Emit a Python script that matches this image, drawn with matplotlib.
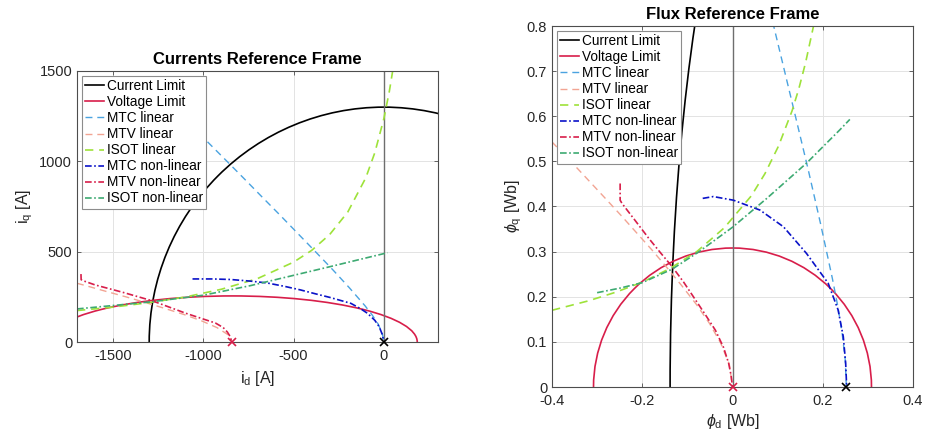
import matplotlib
matplotlib.use("Agg")
import matplotlib.pyplot as plt
from matplotlib.patches import Arc

plt.rcParams['font.family'] = ['Liberation Sans', 'DejaVu Sans']
plt.rcParams['mathtext.fontset'] = 'custom'
plt.rcParams['mathtext.rm'] = 'Liberation Sans'
plt.rcParams['mathtext.it'] = 'Liberation Sans:italic'
plt.rcParams['axes.unicode_minus'] = False

# ---------------- data: current reference frame ----------------
i_max = 1300                      # current limit radius [A]
volt_center_id = -840             # voltage ellipse centre [A]
volt_semi_d = 1025                # voltage ellipse semi-axis d [A]
volt_semi_q = 255                 # voltage ellipse semi-axis q [A]

mtc_lin_id = [-977, -869, -770, -672, -573, -476, -379, -283, -191, -104, -65, -32, -9, 0]
mtc_lin_iq = [1108, 1000, 900, 800, 700, 600, 500, 400, 300, 200, 150, 100, 50, 0]

mtv_lin_id = [-1700, -1655, -1542, -1429, -1319, -1211, -1107, -1010, -925, -864, -840]
mtv_lin_iq = [325, 313, 281, 250, 218, 185, 152, 117, 80, 41, 0]

isot_lin_id = [-1700, -1500, -1300, -1100, -900, -700, -500, -400, -300, -200, -100, -50, 0, 30, 50]
isot_lin_iq = [174, 193, 218, 249, 292, 351, 442, 507, 595, 719, 909, 1048, 1236, 1385, 1507]

mtc_nl_id = [-1060, -950, -850, -739, -648, -550, -461, -380, -300, -183, -130, -91, -50, -26, -8, 0]
mtc_nl_iq = [349, 349, 346, 337, 327, 308, 288, 267, 247, 214, 185, 159, 120, 85, 40, 0]

mtv_nl_id = [-1678, -1677, -1660, -1600, -1450, -1283, -1100, -1000, -933, -890, -867, -850, -843]
mtv_nl_iq = [376, 345, 337, 316, 276, 228, 160, 127, 105, 80, 55, 28, 0]

isot_nl_id = [-1700, -1500, -1283, -1000, -739, -500, -294, -100, 20]
isot_nl_iq = [183, 202, 223, 259, 312, 369, 418, 465, 494]

# ---------------- data: flux reference frame ----------------
psi_m = 0.2524                    # PM flux [Wb] (id = 0 point)
cur_semi_d = 0.3907               # current-limit ellipse semi-axis d [Wb]
cur_semi_q = 1.570                # current-limit ellipse semi-axis q [Wb]
volt_radius = 0.308               # voltage-limit circle radius [Wb]

mtc_lin_fd = [0.2524, 0.2498, 0.2428, 0.2329, 0.2211, 0.1950, 0.1674, 0.1385, 0.1094, 0.0898]
mtc_lin_fq = [0.0, 0.0604, 0.1208, 0.1812, 0.2416, 0.3624, 0.4832, 0.604, 0.7248, 0.806]

mtv_lin_fd = [-0.400, -0.348, -0.279, -0.245, -0.211, -0.177, -0.144, -0.112, -0.080, -0.051, -0.026, -0.007, 0.0]
mtv_lin_fq = [0.543, 0.489, 0.415, 0.378, 0.340, 0.302, 0.263, 0.224, 0.183, 0.141, 0.097, 0.050, 0.0]

isot_lin_fd = [-0.400, -0.319, -0.259, -0.198, -0.138, -0.078, -0.018, 0.042, 0.072, 0.102, 0.132, 0.147, 0.162, 0.180]
isot_lin_fq = [0.170, 0.191, 0.210, 0.233, 0.263, 0.301, 0.353, 0.424, 0.473, 0.534, 0.612, 0.661, 0.719, 0.802]

mtc_nl_fd = [-0.066, -0.0425, 0.002, 0.061, 0.113, 0.164, 0.212, 0.234, 0.2455, 0.2508, 0.253]
mtc_nl_fq = [0.418, 0.422, 0.414, 0.392, 0.355, 0.296, 0.230, 0.171, 0.1115, 0.0525, 0.0]

mtv_nl_fd = [-0.249, -0.249, -0.245, -0.215, -0.186, -0.160, -0.134, -0.108, -0.082, -0.060, -0.038, -0.020, -0.0085, -0.003, 0.0]
mtv_nl_fq = [0.451, 0.414, 0.407, 0.368, 0.330, 0.298, 0.267, 0.232, 0.193, 0.160, 0.126, 0.088, 0.0525, 0.025, 0.0]

isot_nl_fd = [-0.300, -0.250, -0.2006, -0.134, -0.074, 0.000, 0.076, 0.164, 0.238, 0.260]
isot_nl_fq = [0.209, 0.219, 0.231, 0.261, 0.300, 0.354, 0.418, 0.496, 0.570, 0.593]

labels = ['Current Limit', 'Voltage Limit', 'MTC linear', 'MTV linear', 'ISOT linear',
          'MTC non-linear', 'MTV non-linear', 'ISOT non-linear']

# ---------------- styles ----------------
C_CUR = 'black'
C_VOLT = '#D81E4A'
C_MTC_L = '#4AA3E0'
C_MTV_L = '#F2A493'
C_ISOT_L = '#9EE23A'
C_MTC_NL = '#0A12C8'
C_MTV_NL = '#D81E4A'
C_ISOT_NL = '#3DAA72'
styles = [
    dict(color=C_CUR, ls='-', lw=1.2),
    dict(color=C_VOLT, ls='-', lw=1.2),
    dict(color=C_MTC_L, ls=(0, (5, 3.5)), lw=1.0),
    dict(color=C_MTV_L, ls=(0, (5, 3.5)), lw=1.0),
    dict(color=C_ISOT_L, ls=(0, (5, 3.5)), lw=1.2),
    dict(color=C_MTC_NL, ls=(0, (4, 1.5, 1, 1.5)), lw=1.2),
    dict(color=C_MTV_NL, ls=(0, (4, 1.5, 1, 1.5)), lw=1.2),
    dict(color=C_ISOT_NL, ls=(0, (4, 1.5, 1, 1.5)), lw=1.2),
]

fig = plt.figure(figsize=(9.25, 4.36), dpi=100)
ax1 = fig.add_axes([77/925, (436-342)/436, 361/925, 271/436])
ax2 = fig.add_axes([552/925, (436-387)/436, 361/925, 361/436])


def style_axes(ax):
    for s in ax.spines.values():
        s.set_color('#4d4d4d')
        s.set_linewidth(0.8)
    ax.tick_params(direction='in', length=3, width=0.6, colors='#4d4d4d',
                   labelcolor='#262626', labelsize=10.5, top=True, right=True)
    ax.tick_params(axis='x', pad=5)
    ax.grid(True, color='#e3e3e3', lw=0.7)
    ax.set_axisbelow(True)


def add_legend(ax):
    handles = [ax.plot([], [], **st)[0] for st in styles]
    leg = ax.legend(handles, labels, loc='upper left', fontsize=9.8, fancybox=False,
                    framealpha=1, edgecolor='#8c8c8c', borderpad=0.25, labelspacing=0.15,
                    handlelength=1.4, handletextpad=0.2, borderaxespad=0.35)
    leg.get_frame().set_linewidth(0.8)


# ---------------- left: currents ----------------
style_axes(ax1)
ax1.axvline(0, color='#6e6e6e', lw=1.0, zorder=1.5)
ax1.add_patch(Arc((0, 0), 2*i_max, 2*i_max, theta1=0, theta2=180, **styles[0]))
ax1.add_patch(Arc((volt_center_id, 0), 2*volt_semi_d, 2*volt_semi_q, theta1=0, theta2=180, **styles[1]))
ax1.plot(mtc_lin_id, mtc_lin_iq, **styles[2])
ax1.plot(mtv_lin_id, mtv_lin_iq, **styles[3])
ax1.plot(isot_lin_id, isot_lin_iq, **styles[4])
ax1.plot(mtc_nl_id, mtc_nl_iq, **styles[5])
ax1.plot(mtv_nl_id, mtv_nl_iq, **styles[6])
ax1.plot(isot_nl_id, isot_nl_iq, **styles[7])
ax1.plot([0], [0], 'x', color='black', ms=6, mew=1.2, clip_on=False, zorder=5)
ax1.plot([volt_center_id], [0], 'x', color=C_VOLT, ms=6, mew=1.2, clip_on=False, zorder=5)
ax1.set_xlim(-1700, 300)
ax1.set_ylim(0, 1500)
ax1.set_xticks([-1500, -1000, -500, 0])
ax1.set_yticks([0, 500, 1000, 1500])
ax1.set_xlabel(r'$\mathrm{i_d}$ [A]', fontsize=11.5, color='#262626', labelpad=4)
ax1.set_ylabel(r'$\mathrm{i_q}$ [A]', fontsize=11.5, color='#262626', labelpad=3)
ax1.set_title('Currents Reference Frame', fontsize=12, fontweight='bold', pad=5)
add_legend(ax1)

# ---------------- right: flux ----------------
style_axes(ax2)
ax2.axvline(0, color='#6e6e6e', lw=1.0, zorder=1.5)
ax2.add_patch(Arc((psi_m, 0), 2*cur_semi_d, 2*cur_semi_q, theta1=0, theta2=180, **styles[0]))
ax2.add_patch(Arc((0, 0), 2*volt_radius, 2*volt_radius, theta1=0, theta2=180, **styles[1]))
ax2.plot(mtc_lin_fd, mtc_lin_fq, **styles[2])
ax2.plot(mtv_lin_fd, mtv_lin_fq, **styles[3])
ax2.plot(isot_lin_fd, isot_lin_fq, **styles[4])
ax2.plot(mtc_nl_fd, mtc_nl_fq, **styles[5])
ax2.plot(mtv_nl_fd, mtv_nl_fq, **styles[6])
ax2.plot(isot_nl_fd, isot_nl_fq, **styles[7])
ax2.plot([psi_m], [0], 'x', color='black', ms=6, mew=1.2, clip_on=False, zorder=5)
ax2.plot([0], [0], 'x', color=C_VOLT, ms=6, mew=1.2, clip_on=False, zorder=5)
ax2.set_xlim(-0.4, 0.4)
ax2.set_ylim(0, 0.8)
xt = [-0.4, -0.2, 0, 0.2, 0.4]
ax2.set_xticks(xt)
ax2.set_xticklabels(['-0.4', '-0.2', '0', '0.2', '0.4'])
yt = [0, 0.1, 0.2, 0.3, 0.4, 0.5, 0.6, 0.7, 0.8]
ax2.set_yticks(yt)
ax2.set_yticklabels(['0', '0.1', '0.2', '0.3', '0.4', '0.5', '0.6', '0.7', '0.8'])
ax2.set_xlabel(r'$\phi_\mathrm{d}$ [Wb]', fontsize=11.5, color='#262626', labelpad=3)
ax2.set_ylabel(r'$\phi_\mathrm{q}$ [Wb]', fontsize=11.5, color='#262626', labelpad=2)
ax2.set_title('Flux Reference Frame', fontsize=12, fontweight='bold', pad=5)
add_legend(ax2)

fig.savefig('out.png', dpi=100, facecolor='white')
